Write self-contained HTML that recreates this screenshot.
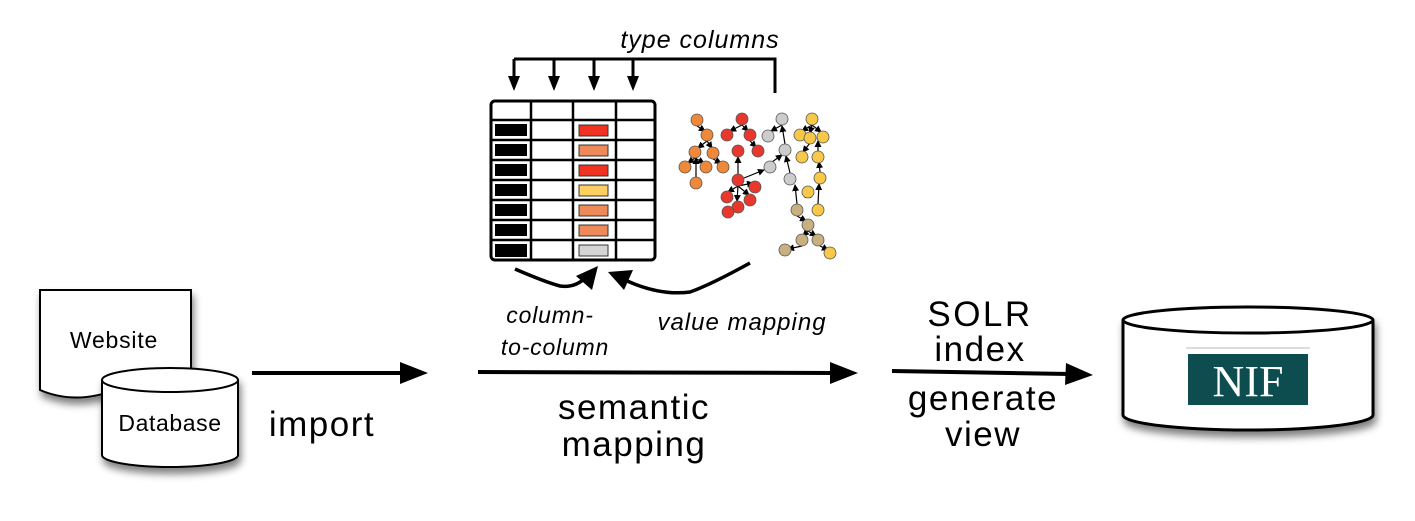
<!DOCTYPE html>
<html><head><meta charset="utf-8"><style>
html,body{margin:0;padding:0;background:#fff}
svg{display:block}
text{font-family:"Liberation Sans",sans-serif;fill:#000}
</style></head><body>
<svg width="1415" height="521" viewBox="0 0 1415 521" xmlns="http://www.w3.org/2000/svg">
<defs>
<marker id="ah" markerWidth="7" markerHeight="7" refX="6" refY="3.5" orient="auto" markerUnits="userSpaceOnUse"><path d="M0,0 L7,3.5 L0,7z" fill="#000"/></marker>
<filter id="sh" x="-20%" y="-20%" width="140%" height="150%"><feGaussianBlur in="SourceAlpha" stdDeviation="4"/><feOffset dx="2" dy="6"/><feComponentTransfer><feFuncA type="linear" slope="0.5"/></feComponentTransfer><feMerge><feMergeNode/><feMergeNode in="SourceGraphic"/></feMerge></filter>
</defs>

<!-- Website doc -->
<path filter="url(#sh)" d="M40,290 L191,290 L191,385 Q150,375 115,390 Q75,405 40,390 Z" fill="#fff" stroke="#000" stroke-width="2"/>
<text x="114" y="348" font-size="23" letter-spacing="0.8" text-anchor="middle">Website</text>
<!-- Database cylinder -->
<g filter="url(#sh)">
<path d="M102,380 L102,455 A68,12 0 0 0 238,455 L238,380" fill="#fff" stroke="#000" stroke-width="2"/>
<ellipse cx="170" cy="380" rx="68" ry="12" fill="#fff" stroke="#000" stroke-width="2"/>
</g>
<text x="170" y="431" font-size="23" letter-spacing="0.6" text-anchor="middle">Database</text>

<!-- main arrows -->
<line x1="252" y1="373" x2="405" y2="373" stroke="#000" stroke-width="4"/>
<path d="M400,362 L428,373 L400,384z"/>
<line x1="478" y1="372" x2="835" y2="373" stroke="#000" stroke-width="4"/>
<path d="M830,362 L858,373 L830,384z"/>
<line x1="892" y1="371" x2="1070" y2="374" stroke="#000" stroke-width="4"/>
<path d="M1066,363 L1093,375 L1065,385z"/>

<text x="322" y="436" font-size="35" letter-spacing="1.5" text-anchor="middle">import</text>
<text x="634" y="419" font-size="35" letter-spacing="1.5" text-anchor="middle">semantic</text>
<text x="634" y="456" font-size="35" letter-spacing="1.5" text-anchor="middle">mapping</text>
<text x="980" y="326" font-size="35" letter-spacing="2.5" text-anchor="middle">SOLR</text>
<text x="980" y="361" font-size="35" letter-spacing="1.5" text-anchor="middle">index</text>
<text x="983" y="410" font-size="35" letter-spacing="1.5" text-anchor="middle">generate</text>
<text x="983" y="446" font-size="35" letter-spacing="1.5" text-anchor="middle">view</text>

<!-- type columns -->
<text x="700" y="48" font-size="25" letter-spacing="1" font-style="italic" text-anchor="middle">type columns</text>
<path d="M514,59 L775,59 L775,93" fill="none" stroke="#000" stroke-width="3"/>
<g stroke="#000" stroke-width="3"><line x1="514" y1="59" x2="514" y2="78"/><line x1="554" y1="59" x2="554" y2="78"/><line x1="594" y1="59" x2="594" y2="78"/><line x1="633" y1="59" x2="633" y2="78"/></g>
<path d="M508,76 L520,76 L514,91z M548,76 L560,76 L554,91z M588,76 L600,76 L594,91z M627,76 L639,76 L633,91z"/>

<!-- table -->
<rect x="491" y="101" width="164" height="159" rx="4" fill="#fff" stroke="#000" stroke-width="3"/>
<g stroke="#000" stroke-width="2.5">
<line x1="531" y1="101" x2="531" y2="260"/><line x1="573" y1="101" x2="573" y2="260"/><line x1="616" y1="101" x2="616" y2="260"/>
<line x1="491" y1="120" x2="655" y2="120"/><line x1="491" y1="140" x2="655" y2="140"/><line x1="491" y1="160" x2="655" y2="160"/><line x1="491" y1="180" x2="655" y2="180"/><line x1="491" y1="200" x2="655" y2="200"/><line x1="491" y1="220" x2="655" y2="220"/><line x1="491" y1="240" x2="655" y2="240"/>
</g>
<g fill="#000">
<rect x="495" y="124" width="32" height="12"/><rect x="495" y="144" width="32" height="12"/><rect x="495" y="164" width="32" height="12"/><rect x="495" y="184" width="32" height="12"/><rect x="495" y="204" width="32" height="12"/><rect x="495" y="224" width="32" height="12"/><rect x="495" y="244" width="32" height="13"/>
</g>
<g stroke="#333" stroke-width="1">
<rect x="579" y="125" width="29" height="11" fill="#f03222"/>
<rect x="579" y="145" width="29" height="11" fill="#ee8a5a"/>
<rect x="579" y="165" width="29" height="11" fill="#f03222"/>
<rect x="579" y="185" width="29" height="11" fill="#fcd060"/>
<rect x="579" y="205" width="29" height="11" fill="#ee8a5a"/>
<rect x="579" y="225" width="29" height="11" fill="#ee8a5a"/>
<rect x="579" y="245" width="29" height="11" fill="#d4d4d4"/>
</g>

<!-- graph edges -->
<g stroke="#000" stroke-width="1.2" marker-end="url(#ah)">
<line x1="697" y1="126" x2="705" y2="131"/><line x1="707" y1="141" x2="698" y2="148"/><line x1="707" y1="141" x2="712" y2="148"/>
<line x1="695" y1="158" x2="688" y2="163"/><line x1="695" y1="158" x2="704" y2="163"/><line x1="696" y1="177" x2="696" y2="158"/><line x1="713" y1="159" x2="721" y2="163"/>
<line x1="742" y1="125" x2="730" y2="131"/><line x1="742" y1="125" x2="748" y2="131"/><line x1="738" y1="174" x2="738" y2="157"/><line x1="750" y1="141" x2="756" y2="147"/>
<line x1="744" y1="178" x2="764" y2="170"/><line x1="738" y1="186" x2="728" y2="192"/><line x1="738" y1="186" x2="737" y2="201"/><line x1="738" y1="186" x2="749" y2="195"/><line x1="738" y1="186" x2="753" y2="183"/>
<line x1="772" y1="162" x2="782" y2="155"/><line x1="785" y1="144" x2="782" y2="126"/><line x1="790" y1="173" x2="786" y2="156"/><line x1="782" y1="125" x2="771" y2="131"/>
<line x1="812" y1="125" x2="802" y2="131"/><line x1="812" y1="125" x2="810" y2="133"/><line x1="812" y1="125" x2="821" y2="132"/>
<line x1="818" y1="151" x2="818" y2="141"/><line x1="810" y1="143" x2="803" y2="152"/><line x1="820" y1="172" x2="819" y2="162"/><line x1="818" y1="204" x2="819" y2="184"/>
<line x1="797" y1="204" x2="795" y2="185"/><line x1="808" y1="198" x2="808" y2="192"/><line x1="808" y1="231" x2="803" y2="236"/><line x1="808" y1="231" x2="816" y2="236"/><line x1="802" y1="246" x2="788" y2="249"/><line x1="820" y1="246" x2="828" y2="250"/><line x1="797" y1="216" x2="806" y2="221"/>
</g>
<!-- graph nodes -->
<g stroke="#555" stroke-width="0.8">
<g fill="#f0883a"><circle cx="697" cy="120" r="6"/><circle cx="707" cy="135" r="6"/><circle cx="695" cy="152" r="6"/><circle cx="713" cy="153" r="6"/><circle cx="685" cy="167" r="6"/><circle cx="706" cy="167" r="6"/><circle cx="723" cy="167" r="6"/><circle cx="696" cy="183" r="6"/></g>
<g fill="#e8382e"><circle cx="742" cy="119" r="6"/><circle cx="727" cy="135" r="6"/><circle cx="750" cy="135" r="6"/><circle cx="738" cy="151" r="6"/><circle cx="758" cy="151" r="6"/><circle cx="738" cy="180" r="6"/><circle cx="755" cy="187" r="6"/><circle cx="727" cy="197" r="6"/><circle cx="738" cy="207" r="6"/><circle cx="750" cy="200" r="6"/><circle cx="728" cy="212" r="6"/></g>
<g fill="#cccccc"><circle cx="782" cy="119" r="6"/><circle cx="768" cy="136" r="6"/><circle cx="785" cy="150" r="6"/><circle cx="770" cy="167" r="6"/><circle cx="790" cy="179" r="6"/></g>
<g fill="#f8c848"><circle cx="812" cy="119" r="6"/><circle cx="800" cy="135" r="6"/><circle cx="810" cy="138" r="6"/><circle cx="823" cy="137" r="6"/><circle cx="802" cy="157" r="6"/><circle cx="818" cy="157" r="6"/><circle cx="820" cy="178" r="6"/><circle cx="808" cy="192" r="6"/><circle cx="818" cy="210" r="6"/><circle cx="830" cy="253" r="6"/></g>
<g fill="#c8b080"><circle cx="797" cy="210" r="6"/><circle cx="808" cy="225" r="6"/><circle cx="802" cy="240" r="6"/><circle cx="818" cy="240" r="6"/><circle cx="785" cy="250" r="6"/></g>
</g>

<!-- curved arrows -->
<path d="M515,269 Q545,282 560,286 Q575,288 585,278" fill="none" stroke="#000" stroke-width="3.5"/>
<path d="M576,276 L598,266 L592,290z"/>
<path d="M750,263 Q710,285 690,292 Q660,296 625,280" fill="none" stroke="#000" stroke-width="3.5"/>
<path d="M608,272 L633,270 L624,290z"/>
<text x="550" y="323" font-size="23" letter-spacing="0.8" font-style="italic" text-anchor="middle">column-</text>
<text x="555" y="355" font-size="23" letter-spacing="0.8" font-style="italic" text-anchor="middle">to-column</text>
<text x="742" y="330" font-size="24" letter-spacing="1" font-style="italic" text-anchor="middle">value mapping</text>

<!-- NIF cylinder -->
<g filter="url(#sh)">
<path d="M1123,320 L1123,415 A125,15 0 0 0 1373,415 L1373,320" fill="#fff" stroke="#000" stroke-width="3"/>
<ellipse cx="1248" cy="320" rx="125" ry="13" fill="#fff" stroke="#000" stroke-width="3"/>
</g>
<line x1="1186" y1="348" x2="1310" y2="348" stroke="#bbb" stroke-width="1"/>
<rect x="1188" y="354" width="120" height="51" fill="#0d4d4f"/>
<text x="1248" y="396" font-size="44" style="fill:#fff;font-family:'Liberation Serif',serif" text-anchor="middle">NIF</text>
</svg>
</body></html>
